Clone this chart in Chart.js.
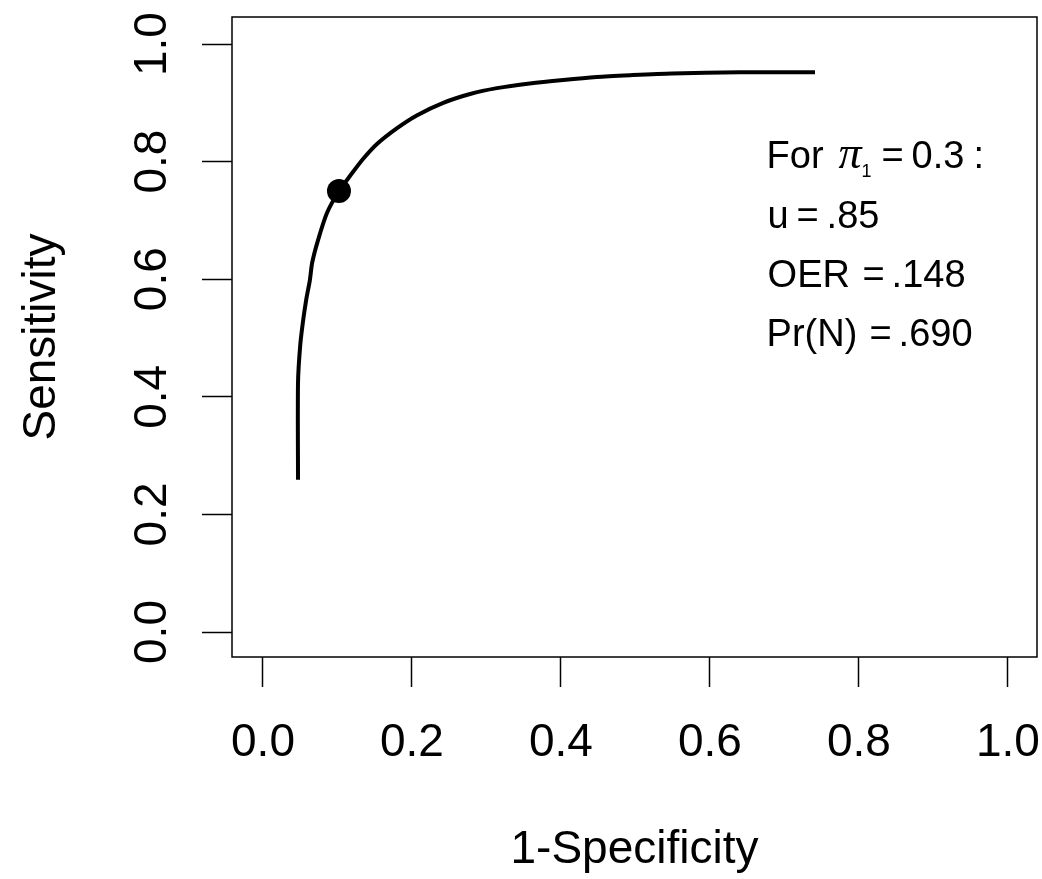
<!DOCTYPE html>
<html>
<head>
<meta charset="utf-8">
<script src="https://cdn.jsdelivr.net/npm/chart.js@4/dist/chart.umd.min.js"></script>
<style>
  html, body { margin: 0; padding: 0; background: #fff; }
  #wrap { width: 1042px; height: 879px; }
</style>
</head>
<body>
<div id="wrap"><canvas id="roc" width="1042" height="879"></canvas></div>
<script>
// ROC-Kurve, Werte
const fpr = [0.047, 0.047, 0.050, 0.054, 0.058, 0.063, 0.066, 0.074, 0.086, 0.102,
             0.117, 0.134, 0.153, 0.180, 0.207, 0.242, 0.278, 0.314, 0.358, 0.403,
             0.448, 0.493, 0.549, 0.640, 0.741];
const sens = [0.259, 0.423, 0.488, 0.531, 0.565, 0.599, 0.628, 0.667, 0.713, 0.750,
              0.776, 0.804, 0.830, 0.857, 0.879, 0.900, 0.915, 0.925, 0.933, 0.939,
              0.944, 0.947, 0.950, 0.952, 0.952];

// markierter Punkt (u = .85)
const cutX = [0.102];
const cutY = [0.750];

// Achsenticks
const xTicks = [0, 0.2, 0.4, 0.6, 0.8, 1.0];
const yTicks = [0, 0.2, 0.4, 0.6, 0.8, 1.0];
const xTickLabels = ['0.0', '0.2', '0.4', '0.6', '0.8', '1.0'];
const yTickLabels = ['0.0', '0.2', '0.4', '0.6', '0.8', '1.0'];

// Textblock rechts
const noteLines = [
    ['For', '\u03C0', '1', '=', '0.3', ':'],
    ['u', '=', '.85'],
    ['OER', '=', '.148'],
    ['Pr(N)', '=', '.690']
];

const SANS = '"Liberation Sans", Arial, sans-serif';

const curvePoints = fpr.map((x, i) => ({ x: x, y: sens[i] }));
const cutPoints = cutX.map((x, i) => ({ x: x, y: cutY[i] }));

// Rahmen um den Plotbereich, y-Ticklabels gedreht, Textblock
const rPlot = {
    id: 'rPlot',
    afterDraw(chart) {
        const ctx = chart.ctx;
        const a = chart.chartArea;
        const xs = chart.scales.x;
        const ys = chart.scales.y;
        ctx.save();
        ctx.strokeStyle = '#000';
        ctx.lineWidth = 1.5;
        ctx.strokeRect(a.left, a.top, a.right - a.left, a.bottom - a.top);

        // y-Ticklabels wie in R (senkrecht)
        ctx.fillStyle = '#000';
        ctx.font = '46px ' + SANS;
        ctx.textAlign = 'center';
        ctx.textBaseline = 'alphabetic';
        yTicks.forEach((v, i) => {
            ctx.save();
            ctx.translate(166, ys.getPixelForValue(v));
            ctx.rotate(-Math.PI / 2);
            ctx.fillText(yTickLabels[i], 0, 0);
            ctx.restore();
        });

        // Textblock
        const x0 = xs.getPixelForValue(0.676);
        const baseY = [0.789, 0.687, 0.587, 0.486].map(v => ys.getPixelForValue(v));
        const layout = [
            [0, 72, 95, 115, 145, 207],
            [1, 30, 60],
            [1, 96, 125],
            [0, 103, 132]
        ];
        ctx.textAlign = 'left';
        noteLines.forEach((parts, li) => {
            parts.forEach((txt, pi) => {
                let font = '38px ' + SANS;
                let dy = 0;
                if (li === 0 && pi === 1) font = 'italic 46px "Liberation Serif", "Times New Roman", serif';
                if (li === 0 && pi === 2) { font = '18px ' + SANS; dy = 9; }
                ctx.font = font;
                ctx.fillText(txt, x0 + layout[li][pi], baseY[li] + dy);
            });
        });
        ctx.restore();
    }
};

new Chart(document.getElementById('roc'), {
    type: 'scatter',
    data: {
        datasets: [{
            data: curvePoints,
            showLine: true,
            borderColor: '#000',
            borderWidth: 4,
            pointRadius: 0,
            fill: false,
            tension: 0.25
        }, {
            data: cutPoints,
            pointRadius: 12,
            pointBackgroundColor: '#000',
            pointBorderWidth: 0,
            showLine: false
        }]
    },
    options: {
        responsive: false,
        animation: false,
        events: [],
        layout: { autoPadding: false, padding: { top: 17, right: 5, left: 0, bottom: 0 } },
        plugins: {
            legend: { display: false },
            tooltip: { enabled: false }
        },
        scales: {
            x: {
                type: 'linear',
                min: -0.0416,
                max: 1.039,
                afterBuildTicks: s => { s.ticks = xTicks.map(v => ({ value: v })); },
                afterFit: s => { s.height = 222; s.paddingLeft = 0; s.paddingRight = 0; },
                border: { display: false },
                grid: {
                    drawOnChartArea: false,
                    drawTicks: true,
                    tickLength: 30,
                    tickWidth: 1.5,
                    tickColor: '#000'
                },
                ticks: {
                    color: '#000',
                    font: { family: SANS, size: 46, lineHeight: 1 },
                    padding: 33,
                    maxRotation: 0,
                    autoSkip: false,
                    callback: (v) => xTickLabels[xTicks.indexOf(v)]
                },
                title: {
                    display: true,
                    text: '1-Specificity',
                    color: '#000',
                    font: { family: SANS, size: 46, lineHeight: 1 },
                    padding: { top: 0, bottom: 6 }
                }
            },
            y: {
                type: 'linear',
                min: -0.0425,
                max: 1.046,
                afterBuildTicks: s => { s.ticks = yTicks.map(v => ({ value: v })); },
                afterFit: s => { s.width = 232; s.paddingTop = 0; s.paddingBottom = 0; },
                border: { display: false },
                grid: {
                    drawOnChartArea: false,
                    drawTicks: true,
                    tickLength: 30,
                    tickWidth: 1.5,
                    tickColor: '#000'
                },
                ticks: { display: false },
                title: {
                    display: true,
                    text: 'Sensitivity',
                    color: '#000',
                    font: { family: SANS, size: 46, lineHeight: 1 },
                    padding: { top: 19, bottom: 0 }
                }
            }
        }
    },
    plugins: [rPlot]
});
</script>
</body>
</html>
